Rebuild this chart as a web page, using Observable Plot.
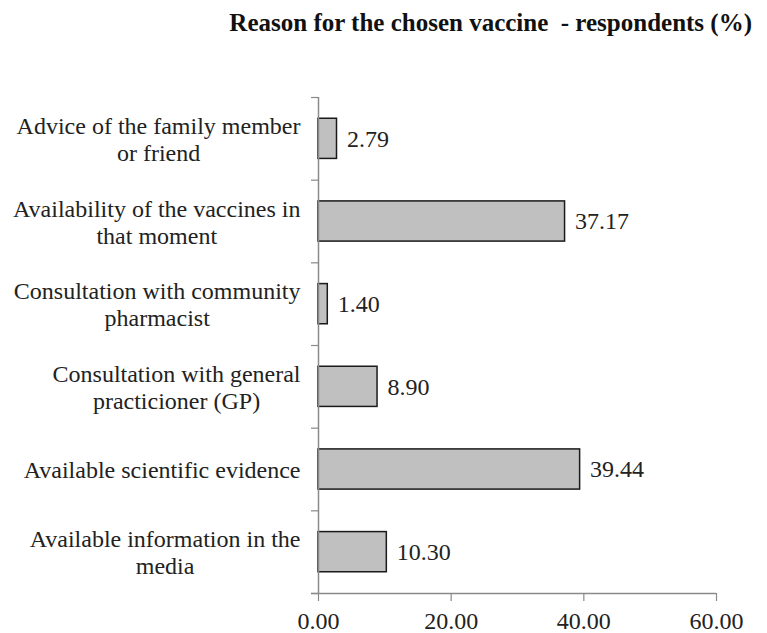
<!DOCTYPE html>
<html>
<head>
<meta charset="utf-8">
<script src="https://cdn.jsdelivr.net/npm/d3@7"></script>
<script src="https://cdn.jsdelivr.net/npm/@observablehq/plot@0.6"></script>
<style>
  html, body { margin: 0; padding: 0; background: #fff; }
  #title {
    height: 50px; box-sizing: border-box; padding: 9px 15px 0 0;
    text-align: right; white-space: pre; color: #111;
    font: bold 25px "Liberation Serif", "Times New Roman", serif;
  }
  svg text { font-family: "Liberation Serif", "Times New Roman", serif; }
</style>
</head>
<body>
<div id="title">Reason for the chosen vaccine  - respondents (%)</div>
<div id="chart"></div>
<script>
const titleText = "Reason for the chosen vaccine  - respondents (%)";
const categories = [
  "Advice of the family member\nor friend",
  "Availability of the vaccines in\nthat moment",
  "Consultation with community\npharmacist",
  "Consultation with general\npracticioner (GP)",
  "Available scientific evidence",
  "Available information in the\nmedia"
];
const values = [2.79, 37.17, 1.40, 8.90, 39.44, 10.30];
const xTicks = [0, 20, 40, 60];

const data = categories.map((c, i) => ({category: c, i, value: values[i]}));

const FONT = "Liberation Serif";
const FS = 24;
const ctx = document.createElement("canvas").getContext("2d");
ctx.font = `${FS}px "${FONT}"`;
const blockWidth = s => Math.max(...s.split("\n").map(l => ctx.measureText(l).width));

const pad = 0.257;
const labelGap = 18;

const chart = Plot.plot({
  width: 767,
  height: 583,
  marginTop: 47,
  marginBottom: 40,
  marginLeft: 318,
  marginRight: 51,
  style: {fontFamily: FONT, fontSize: FS + "px", color: "#222", background: "#fff"},
  x: {domain: [0, 60], axis: null},
  y: {domain: [0, 6], reverse: true, axis: null},
  marks: [
    Plot.rectX(data, {x1: 0, x2: "value", y1: d => d.i + pad, y2: d => d.i + 1 - pad,
      fill: "#c0c0c0", stroke: "#1a1a1a", strokeWidth: 1.5}),
    Plot.ruleX([0], {stroke: "#8a8a8a", strokeWidth: 1.5}),
    Plot.ruleY([6], {stroke: "#8a8a8a", strokeWidth: 1.5, insetLeft: -7}),
    Plot.axisY({ticks: d3.range(0, 7), tickFormat: () => "", tickSize: 7, label: null,
      stroke: "#8a8a8a", strokeWidth: 1.2}),
    Plot.axisX({ticks: xTicks, tickFormat: d => d.toFixed(2), tickSize: 8, tickPadding: 10, label: null,
      stroke: "#8a8a8a", strokeWidth: 1.2, fill: "#222", fontSize: FS, fontFamily: FONT}),
    Plot.text(data, {x: "value", y: d => d.i + 0.5, text: d => d.value.toFixed(2),
      textAnchor: "start", dx: 10, fill: "#222", fontSize: FS, fontFamily: FONT}),
    ...data.map(d => Plot.text([d], {y: d => d.i + 0.5, text: "category", frameAnchor: "left",
      textAnchor: "middle", dx: -labelGap - blockWidth(d.category) / 2, lineHeight: 1.12,
      fill: "#222", fontSize: FS, fontFamily: FONT}))
  ]
});
document.getElementById("chart").appendChild(chart);
</script>
</body>
</html>
